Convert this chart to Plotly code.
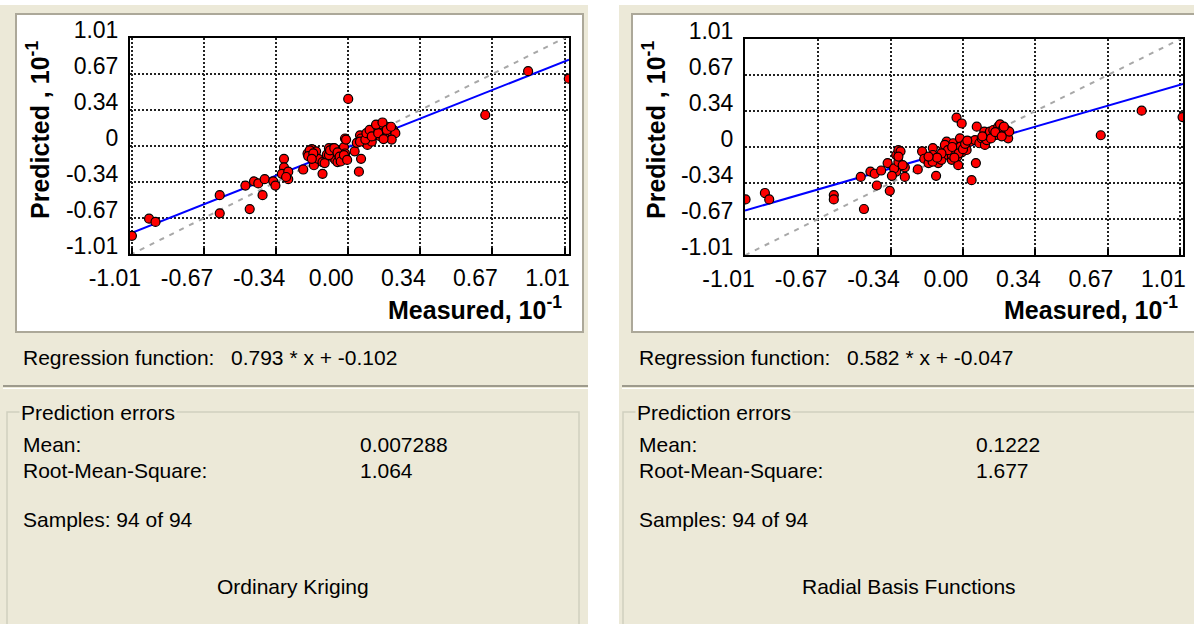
import plotly.graph_objects as go

W, H = 1194, 624

# ---------------- data (plot units, 10^-1) ----------------
ok_measured = [-1.01, -0.93, -0.90, -0.60, -0.60, -0.48, -0.46, -0.44, -0.42, -0.40,
               -0.39, -0.35, -0.34, -0.30, -0.30, -0.31, -0.28, -0.28, -0.29, -0.21,
               -0.19, -0.17, -0.16, -0.15, -0.14, -0.12, -0.12, -0.10, -0.09, -0.08,
               -0.07, -0.06, -0.05, -0.05, -0.04, -0.03, -0.02, -0.015, -0.01, -0.015,
               0.0, 0.03, 0.04, 0.05, 0.055, 0.06, 0.06, 0.08, 0.09, 0.10,
               0.10, 0.11, 0.125, 0.14, 0.15, 0.155, 0.16, 0.17, 0.18, 0.19,
               0.195, 0.20, 0.21, 0.22, 0.17, 0.64, 0.84, 1.03, -0.18, -0.187,
               -0.163, -0.17, -0.11, -0.09, -0.085, -0.065, -0.05, -0.04, -0.035, -0.02,
               -0.01, -0.005, 0.055, 0.08, 0.085, 0.10, 0.11, 0.14, 0.13, 0.16,
               0.18, 0.20, 0.203, 0.165]
ok_predicted = [-0.84, -0.68, -0.71, -0.46, -0.63, -0.37, -0.59, -0.33, -0.35, -0.46,
                -0.31, -0.33, -0.37, -0.12, -0.20, -0.26, -0.24, -0.31, -0.29, -0.22,
                -0.07, -0.03, -0.18, -0.05, -0.12, -0.26, -0.15, -0.08, -0.02, -0.10,
                -0.02, -0.13, -0.07, -0.15, -0.04, -0.10, -0.01, 0.07, -0.12, -0.07,
                0.44, -0.05, 0.03, -0.24, 0.10, -0.12, 0.07, 0.04, 0.01, 0.13,
                0.07, 0.04, 0.10, 0.15, 0.09, 0.17, 0.20, 0.13, 0.18, 0.13,
                0.17, 0.10, 0.15, 0.12, 0.08, 0.29, 0.70, 0.63, -0.04, -0.094,
                -0.069, -0.12, -0.16, -0.085, -0.04, -0.02, -0.06, -0.10, -0.145, -0.085,
                0.06, -0.13, 0.04, 0.06, 0.12, 0.15, 0.09, 0.12, 0.20, 0.22,
                0.15, 0.18, 0.06, 0.065]

rbf_measured = [-1.01, -0.92, -0.90, -0.60, -0.60, -0.46, -0.475, -0.43, -0.41, -0.38,
                -0.40, -0.35, -0.34, -0.31, -0.31, -0.30, -0.32, -0.30, -0.29, -0.30,
                -0.27, -0.27, -0.21, -0.19, -0.18, -0.16, -0.14, -0.14, -0.125, -0.115,
                -0.10, -0.09, -0.076, -0.068, -0.06, -0.052, -0.045, -0.037, -0.03, -0.026,
                -0.022, -0.017, -0.006, 0.064, 0.64, 0.83, 1.02, -0.141, -0.091, -0.084,
                -0.052, -0.037, -0.014, -0.011, -0.006, 0.017, 0.033, 0.04, 0.06, 0.056,
                0.076, 0.087, 0.099, 0.102, 0.117, 0.125, 0.141, 0.153, 0.164, 0.172,
                0.18, 0.187, 0.195, 0.203, 0.21, 0.215, 0.11, -0.07, -0.05, -0.02,
                0.00, 0.01, -0.10, -0.12, -0.16, -0.33, -0.28, 0.13, 0.15, 0.18,
                0.02, -0.04, 0.09, 0.19]
rbf_predicted = [-0.49, -0.43, -0.49, -0.45, -0.49, -0.58, -0.28, -0.23, -0.25, -0.22,
                 -0.36, -0.15, -0.41, -0.23, -0.075, -0.03, -0.20, -0.14, -0.04, -0.09,
                 -0.19, -0.28, -0.21, -0.04, -0.11, -0.15, -0.01, -0.075, -0.27, -0.15,
                 -0.12, -0.04, 0.05, -0.075, -0.01, -0.12, 0.035, -0.043, 0.275, -0.09,
                 -0.17, 0.004, 0.22, 0.19, 0.11, 0.34, 0.28, -0.137, -0.028, 0.019,
                 -0.075, -0.059, 0.081, 0.004, -0.05, -0.028, 0.05, -0.31, -0.15, 0.065,
                 0.035, 0.081, 0.144, 0.019, 0.112, 0.144, 0.159, 0.112, 0.191, 0.212,
                 0.144, 0.175, 0.128, 0.159, 0.081, 0.144, 0.065, -0.03, 0.00, -0.06,
                 -0.02, 0.03, -0.06, -0.10, -0.09, -0.27, -0.17, 0.08, 0.14, 0.10,
                 0.06, -0.10, 0.10, 0.19]

methods = ["Ordinary Kriging", "Radial Basis Functions"]
reg_slope = [0.793, 0.582]
reg_intercept = [-0.102, -0.047]          # original units (x10 of plot units)
reg_text = ["0.793 * x + -0.102", "0.582 * x + -0.047"]
err_mean = ["0.007288", "0.1222"]
err_rms = ["1.064", "1.677"]
samples_text = ["Samples: 94 of 94", "Samples: 94 of 94"]

x_tick_labels = ["-1.01", "-0.67", "-0.34", "0.00", "0.34", "0.67", "1.01"]
y_tick_labels = ["-1.01", "-0.67", "-0.34", "0", "0.34", "0.67", "1.01"]
tick_values = [-1.01 + i * 2.02 / 6 for i in range(7)]

x_ranges = [[-1.019, 1.031], [-1.0125, 1.022]]
y_range = [-1.01, 1.01]

# ---------------- styling / layout ----------------
BEIGE = "#ECE9D8"
FONT = "Liberation Sans"

def px(x):
    return x / W

def py(y):
    return 1 - y / H

plot_boxes = [(130, 569, 38, 254), (745, 1183, 39, 255)]
offsets = [0, 616]
panels = [(0, 588), (619, 1194)]

fig = go.Figure()

series = [(ok_measured, ok_predicted), (rbf_measured, rbf_predicted)]
for i, (mx, my) in enumerate(series):
    xa = "x" if i == 0 else "x2"
    ya = "y" if i == 0 else "y2"
    xr = x_ranges[i]
    # 1:1 reference line
    fig.add_trace(go.Scatter(x=xr, y=xr, mode="lines", xaxis=xa, yaxis=ya,
                             line=dict(color="#A8A8A8", width=2, dash="5px,6px"),
                             hoverinfo="skip", showlegend=False))
    # regression line (intercept scaled to plot units 10^-1)
    b = reg_intercept[i] * 0.1
    fig.add_trace(go.Scatter(x=xr, y=[reg_slope[i] * v + b for v in xr], mode="lines",
                             xaxis=xa, yaxis=ya,
                             line=dict(color="#0000FF", width=2),
                             hoverinfo="skip", showlegend=False))
    fig.add_trace(go.Scatter(x=mx, y=my, mode="markers", xaxis=xa, yaxis=ya,
                             marker=dict(color="#FF0000", size=9,
                                         line=dict(color="black", width=1.2)),
                             showlegend=False))

axis_common = dict(showline=True, linewidth=2, linecolor="black", mirror=True,
                   showgrid=True, gridcolor="#222222", gridwidth=2, griddash="2px,2px",
                   zeroline=False, tickvals=tick_values, automargin=False,
                   tickfont=dict(family=FONT, size=23, color="black"))

layout_axes = {}
for i in range(2):
    x0, x1, y0, y1 = plot_boxes[i]
    sfx = "" if i == 0 else "2"
    layout_axes["xaxis" + sfx] = dict(axis_common, domain=[px(x0), px(x1)],
                                      range=x_ranges[i], ticktext=x_tick_labels,
                                      ticks="inside", ticklen=6, tickwidth=2,
                                      tickcolor="black", ticklabelshift=-17,
                                      ticklabelstandoff=2,
                                      anchor="y" + sfx)
    layout_axes["yaxis" + sfx] = dict(axis_common, domain=[py(y1), py(y0)],
                                      range=y_range, ticktext=y_tick_labels,
                                      ticks="", ticklabelshift=-8,
                                      ticklabelstandoff=5,
                                      anchor="x" + sfx)

shapes = []
for i in range(2):
    o = offsets[i]
    a, bnd = panels[i]
    shapes.append(dict(type="rect", xref="paper", yref="paper", layer="below",
                       x0=px(a), x1=px(bnd), y0=py(624), y1=py(5),
                       fillcolor=BEIGE, line=dict(width=0)))
    # white chart window
    shapes.append(dict(type="rect", xref="paper", yref="paper", layer="below",
                       x0=px(16 + o), x1=px(min(583 + o, 1200)), y0=py(332), y1=py(14),
                       fillcolor="white", line=dict(color="#ACA899", width=2)))
    # separator
    shapes.append(dict(type="line", xref="paper", yref="paper", layer="below",
                       x0=px(a + 3), x1=px(bnd), y0=py(386), y1=py(386),
                       line=dict(color="#9D9A8C", width=2)))
    shapes.append(dict(type="line", xref="paper", yref="paper", layer="below",
                       x0=px(a + 3), x1=px(bnd), y0=py(388.5), y1=py(388.5),
                       line=dict(color="#FFFFFF", width=1)))
    # group box
    shapes.append(dict(type="rect", xref="paper", yref="paper", layer="below",
                       x0=px(7 + o), x1=px(min(579 + o, 1200)), y0=py(640), y1=py(412),
                       fillcolor=BEIGE, line=dict(color="#D0D0BF", width=1.5)))

annotations = []
TXT = dict(family=FONT, size=21, color="black")
for i in range(2):
    o = offsets[i]
    x0, x1, y0, y1 = plot_boxes[i]
    annotations.append(dict(xref="paper", yref="paper", x=px(38 + o), y=py(130),
                            text="<b>Predicted , 10<sup>-1</sup></b>", textangle=-90,
                            showarrow=False, xanchor="center", yanchor="middle",
                            font=dict(family=FONT, size=25, color="black")))
    annotations.append(dict(xref="paper", yref="paper", x=px(564 + o), y=py(308),
                            text="<b>Measured, 10<sup>-1</sup></b>",
                            showarrow=False, xanchor="right", yanchor="middle",
                            font=dict(family=FONT, size=25, color="black")))
    rows = [
        (21, 357, "Regression function:", "left"),
        (229, 357, reg_text[i], "left"),
        (21, 444, "Mean:", "left"),
        (358, 444, err_mean[i], "left"),
        (21, 470, "Root-Mean-Square:", "left"),
        (358, 470, err_rms[i], "left"),
        (21, 519, samples_text[i], "left"),
        (293, 586, methods[i], "center"),
    ]
    for (tx, ty, t, anc) in rows:
        annotations.append(dict(xref="paper", yref="paper", x=px(tx + o), y=py(ty),
                                text=t, showarrow=False, xanchor=anc, yanchor="middle",
                                font=TXT))
    annotations.append(dict(xref="paper", yref="paper", x=px(19 + o), y=py(412),
                            text="Prediction errors", showarrow=False, xanchor="left",
                            yanchor="middle", font=TXT, bgcolor=BEIGE, borderpad=1))

fig.update_layout(width=W, height=H, margin=dict(l=0, r=0, t=0, b=0, autoexpand=False),
                  paper_bgcolor="white", plot_bgcolor="white",
                  shapes=shapes, annotations=annotations, showlegend=False,
                  **layout_axes)

fig.write_html("out.html", config={"displayModeBar": False},
               post_script="document.body.style.margin='0px';document.body.style.overflow='hidden';")
